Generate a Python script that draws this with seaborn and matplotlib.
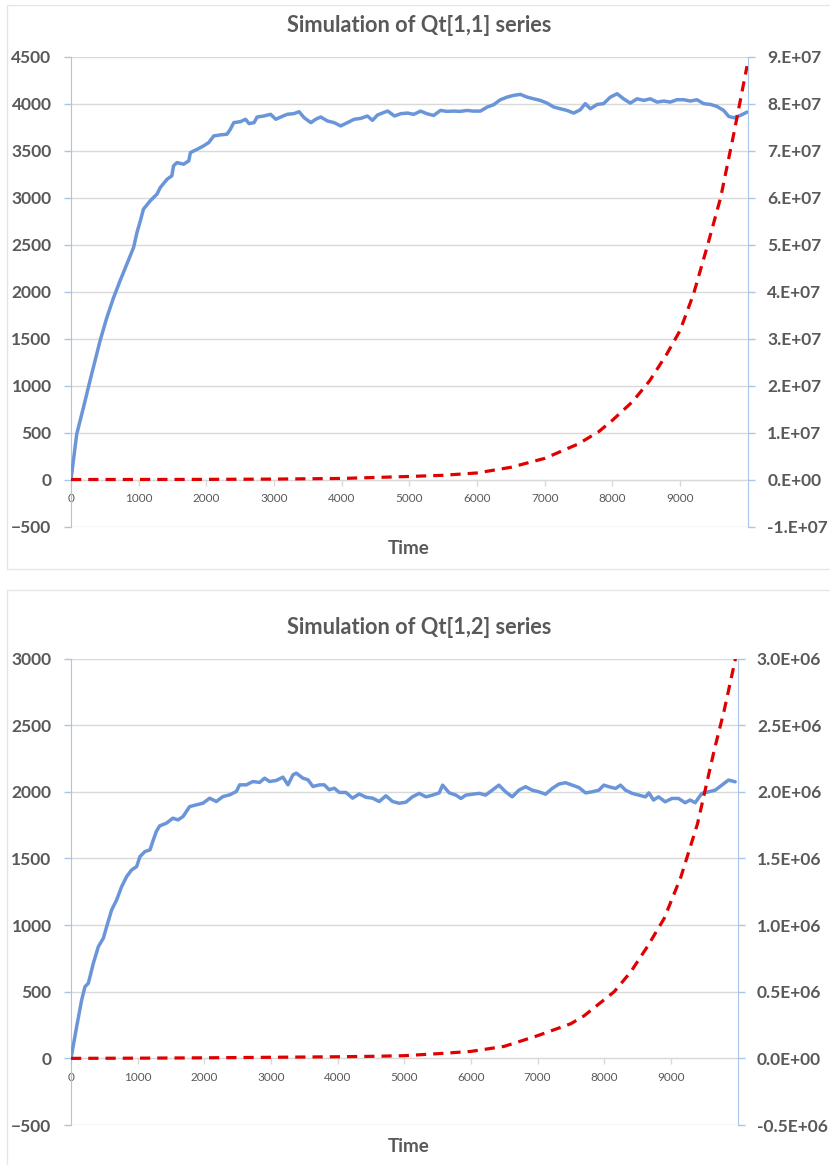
import numpy as np
import pandas as pd
import matplotlib
matplotlib.use("Agg")
import matplotlib.pyplot as plt
import seaborn as sns
from matplotlib.patches import Rectangle
from matplotlib.ticker import FuncFormatter, MultipleLocator

# values
q11_time = [0, 85, 185, 280, 380, 430, 530, 630, 725, 825, 925, 975, 1025, 1070, 1170, 1270,
            1320, 1420, 1490, 1515, 1565, 1665, 1740, 1765, 1865, 1960, 2035, 2110, 2210, 2305,
            2355, 2405, 2505, 2580, 2630, 2705, 2750, 2850, 2950, 3025, 3100, 3195, 3295, 3370,
            3445, 3545, 3615, 3690, 3790, 3890, 3985, 4085, 4185, 4285, 4380, 4455, 4530, 4680,
            4780, 4875, 4975, 5065, 5165, 5260, 5360, 5460, 5555, 5655, 5755, 5850, 5950, 6050,
            6150, 6245, 6345, 6445, 6540, 6640, 6740, 6835, 6935, 7035, 7135, 7230, 7330, 7430,
            7525, 7600, 7675, 7775, 7870, 7970, 8070, 8165, 8265, 8365, 8465, 8560, 8660, 8760,
            8855, 8955, 9055, 9155, 9250, 9350, 9450, 9545, 9645, 9720, 9795, 9890, 9990]
q11_sim = [0, 485, 770, 1050, 1335, 1478, 1725, 1938, 2115, 2292, 2470, 2630, 2753, 2877, 2966, 3037,
           3108, 3196, 3232, 3338, 3373, 3356, 3391, 3480, 3515, 3551, 3586, 3657, 3668, 3675,
           3728, 3798, 3809, 3834, 3788, 3798, 3858, 3869, 3887, 3834, 3858, 3887, 3894, 3915,
           3851, 3798, 3834, 3858, 3816, 3798, 3763, 3798, 3834, 3844, 3869, 3823, 3880, 3922,
           3869, 3894, 3900, 3886, 3921, 3893, 3875, 3928, 3918, 3921, 3918, 3928, 3921, 3921,
           3964, 3989, 4042, 4070, 4088, 4099, 4070, 4052, 4035, 4006, 3964, 3946, 3928, 3900,
           3935, 4000, 3946, 3992, 4000, 4070, 4106, 4052, 4006, 4052, 4035, 4052, 4017, 4028,
           4017, 4042, 4042, 4028, 4042, 4000, 3992, 3971, 3928, 3864, 3850, 3875, 3910]

q11_exp_time = [0, 1000, 2000, 3000, 4000, 5000, 5500, 6000, 6500, 7000, 7500, 7800, 8000,
                8300, 8550, 8800, 9000, 9200, 9400, 9600, 9800, 9990]
q11_exp = [0.0, 0.001e7, 0.003e7, 0.009e7, 0.023e7, 0.065e7, 0.09e7, 0.14e7, 0.26e7, 0.45e7,
           0.76e7, 1.02e7, 1.26e7, 1.66e7, 2.1e7, 2.66e7, 3.17e7, 3.95e7, 4.95e7, 6.0e7, 7.4e7, 8.8e7]

q12_time = [0, 85, 160, 210, 260, 335, 410, 485, 535, 610, 685, 760, 835, 910, 985, 1035, 1110,
            1185, 1235, 1280, 1330, 1430, 1530, 1605, 1680, 1780, 1880, 1980, 2080, 2180, 2280,
            2380, 2480, 2530, 2630, 2730, 2830, 2905, 2980, 3080, 3180, 3255, 3330, 3380, 3480,
            3555, 3630, 3730, 3800, 3875, 3950, 4025, 4125, 4225, 4325, 4425, 4525, 4625, 4725,
            4825, 4925, 5025, 5125, 5225, 5325, 5425, 5525, 5575, 5675, 5775, 5850, 5925, 6025,
            6125, 6220, 6320, 6420, 6520, 6620, 6720, 6820, 6920, 7020, 7120, 7220, 7320, 7420,
            7520, 7620, 7720, 7820, 7920, 7995, 8070, 8170, 8245, 8320, 8420, 8520, 8620, 8670,
            8740, 8815, 8915, 9015, 9115, 9215, 9290, 9365, 9465, 9565, 9665, 9765, 9865, 9965]
q12_sim = [0, 238, 438, 538, 563, 713, 838, 901, 988, 1114, 1189, 1289, 1364, 1414, 1439, 1514, 1552,
           1564, 1639, 1702, 1744, 1764, 1802, 1789, 1814, 1889, 1902, 1914, 1952, 1927, 1964,
           1977, 2002, 2052, 2052, 2077, 2070, 2102, 2077, 2085, 2110, 2052, 2127, 2140, 2102,
           2090, 2040, 2052, 2052, 2015, 2027, 1995, 1995, 1952, 1984, 1959, 1952, 1927, 1970,
           1927, 1914, 1922, 1963, 1988, 1962, 1975, 1992, 2050, 1992, 1975, 1950, 1975, 1982,
           1988, 1975, 2012, 2050, 2000, 1962, 2012, 2038, 2012, 2000, 1982, 2025, 2058, 2068,
           2050, 2032, 1992, 2000, 2012, 2050, 2038, 2025, 2050, 2012, 1988, 1975, 1962, 1992,
           1938, 1962, 1925, 1950, 1950, 1918, 1938, 1918, 1988, 2000, 2012, 2050, 2088, 2075]

q12_exp_time = [0, 1000, 2000, 3000, 4000, 4500, 5000, 5500, 6000, 6500, 7000, 7500, 7700, 7900,
                8150, 8400, 8650, 8900, 9150, 9400, 9650, 9800, 9970]
q12_exp = [0.0, 0.0015e6, 0.004e6, 0.008e6, 0.012e6, 0.015e6, 0.02e6, 0.035e6, 0.052e6, 0.09e6,
           0.17e6, 0.26e6, 0.32e6, 0.40e6, 0.50e6, 0.65e6, 0.84e6, 1.05e6, 1.36e6, 1.76e6,
           2.31e6, 2.61e6, 3.0e6]

titles = ["Simulation of Qt[1,1] series", "Simulation of Qt[1,2] series"]

sns.set_style("white")
plt.rcParams["font.family"] = ["Lato", "DejaVu Sans"]

BLUE = "#6A95D8"
RED = "#E00000"
SPINE = "#A9C6EA"
GRID = "#D9D9D9"
TXT = "#595959"

W, H = 830, 1165
fig = plt.figure(figsize=(W / 100, H / 100), dpi=100)

# chart area frames
fig.patches.append(Rectangle((7 / W, 1 - 569 / H), 1.0, 564 / H, transform=fig.transFigure,
                             fill=False, edgecolor="#E6E6E6", linewidth=1))
fig.patches.append(Rectangle((7 / W, -0.01), 1.0, 1 - 590 / H + 0.01, transform=fig.transFigure,
                             fill=False, edgecolor="#E6E6E6", linewidth=1))


def top_fmt(v, pos):
    if abs(v) < 1:
        return "0.E+00"
    return f"{v / 1e7:.0f}.E+07"


def bot_fmt(v, pos):
    if abs(v) < 1:
        return "0.0E+00"
    return f"{v / 1e6:.1f}E+06"


panels = [
    dict(rect=[71 / W, 1 - 526.5 / H, 676.7 / W, 469.8 / H], t=q11_time, y=q11_sim,
         te=q11_exp_time, e=q11_exp, ylim=(-500, 4500), y2lim=(-1e7, 9e7), y2step=1e7,
         fmt=top_fmt, title=titles[0], ty=25, timey=548),
    dict(rect=[71 / W, 1 - 1125 / H, 666.5 / W, 466.5 / H], t=q12_time, y=q12_sim,
         te=q12_exp_time, e=q12_exp, ylim=(-500, 3000), y2lim=(-0.5e6, 3e6), y2step=0.5e6,
         fmt=bot_fmt, title=titles[1], ty=627, timey=1147),
]

for p in panels:
    ax = fig.add_axes(p["rect"])
    ax2 = ax.twinx()

    sim = pd.DataFrame({"Time": p["t"], "value": p["y"]})
    ext = pd.DataFrame({"Time": p["te"], "value": p["e"]})

    sns.lineplot(data=sim, x="Time", y="value", ax=ax, color=BLUE, linewidth=2.5, zorder=3)
    sns.lineplot(data=ext, x="Time", y="value", ax=ax2, color=RED, linewidth=2.3,
                 dashes=False, zorder=3)
    ax2.lines[0].set_dashes([3.2, 2.2])

    ax.set_xlim(0, 10000)
    ax.set_ylim(*p["ylim"])
    ax2.set_ylim(*p["y2lim"])
    ax.yaxis.set_major_locator(MultipleLocator(500))
    ax2.yaxis.set_major_locator(MultipleLocator(p["y2step"]))
    ax2.yaxis.set_major_formatter(FuncFormatter(p["fmt"]))
    ax.set_xticks(np.arange(0, 10000, 1000))

    ax.grid(axis="y", color=GRID, linewidth=1)
    ax.set_axisbelow(True)
    ax2.grid(False)

    for a in (ax, ax2):
        a.spines["top"].set_visible(False)
        a.spines["left"].set_color(SPINE)
        a.spines["right"].set_color(SPINE)
        a.spines["bottom"].set_position(("data", 0))
        a.spines["bottom"].set_color(GRID)
    ax.spines["right"].set_visible(False)
    ax2.spines["left"].set_visible(False)
    ax2.spines["bottom"].set_visible(False)

    ax.tick_params(axis="y", direction="out", length=5, width=1, color=SPINE, pad=9,
                   labelsize=12.5, labelcolor=TXT, left=True)
    ax2.tick_params(axis="y", direction="out", length=5, width=1, color=SPINE, pad=9,
                    labelsize=12.5, labelcolor=TXT, right=True)
    ax.tick_params(axis="x", direction="out", length=4, width=1, color=GRID, pad=6,
                   labelsize=8.5, labelcolor=TXT, bottom=True)
    for lab in ax.get_yticklabels() + ax2.get_yticklabels():
        lab.set_fontweight("bold")

    ax.set_xlabel("")
    ax.set_ylabel("")
    ax2.set_ylabel("")

    fig.text(419 / W, 1 - p["ty"] / H, p["title"], ha="center", va="center",
             fontsize=15.7, fontweight="bold", color=TXT)
    fig.text(409 / W, 1 - p["timey"] / H, "Time", ha="center", va="center",
             fontsize=13.5, fontweight="bold", color=TXT)

fig.savefig("out.png", dpi=100, facecolor="white")
